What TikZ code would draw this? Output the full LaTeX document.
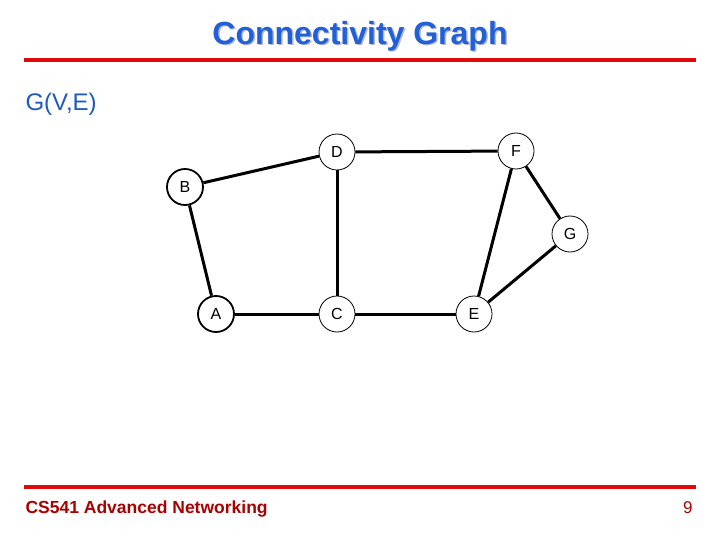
\documentclass[tikz,border=0pt]{standalone}
\usepackage{fontspec}
\setmainfont{Liberation Sans}
\definecolor{titleblue}{RGB}{32,96,216}
\definecolor{shadowgray}{RGB}{185,185,195}
\definecolor{rulered}{RGB}{225,10,10}
\definecolor{footred}{RGB}{170,0,0}
\definecolor{gvblue}{RGB}{30,90,190}
\begin{document}
\begin{tikzpicture}[x=1pt,y=-1pt,
  vtx/.style={circle,draw,line width=0.8pt,fill=white,minimum size=36pt,inner sep=0pt,font=\fontsize{16}{16}\selectfont},
  vtxb/.style={vtx,line width=1.8pt},
  edge/.style={line width=3pt},
  redrule/.style={draw=rulered,line width=4pt}]
\useasboundingbox (0,0) rectangle (720,540);
% title
\node[font=\fontsize{32}{32}\selectfont\bfseries,text=shadowgray] at (361.5,37.5) {Connectivity Graph};
\node[font=\fontsize{32}{32}\selectfont\bfseries,text=titleblue] (title) at (360,36) {Connectivity Graph};
\coordinate (r1a) at (24,60); \coordinate (r1b) at (696,60);
\draw[redrule] (r1a) -- (r1b);
\node[font=\fontsize{24}{24}\selectfont,text=gvblue,anchor=west] (gve) at (22,104) {G(V,E)};
% vertices
\node[vtx] (D) at (337,152) {D};
\node[vtx] (F) at (516,151) {F};
\node[vtxb] (B) at (185,187) {B};
\node[vtx] (G) at (570,234) {G};
\node[vtxb] (A) at (216,314) {A};
\node[vtx] (C) at (337,314) {C};
\node[vtx] (E) at (474,314) {E};
% edges
\draw[edge] (B) -- (D);
\draw[edge] (B) -- (A);
\draw[edge] (A) -- (C);
\draw[edge] (C) -- (D);
\draw[edge] (D) -- (F);
\draw[edge] (C) -- (E);
\draw[edge] (E) -- (F);
\draw[edge] (F) -- (G);
\draw[edge] (G) -- (E);
% footer
\coordinate (r2a) at (24,487); \coordinate (r2b) at (696,487);
\draw[redrule] (r2a) -- (r2b);
\node[font=\fontsize{17.5}{17.5}\selectfont\bfseries,text=footred,anchor=base west] (foot) at (22,513) {CS541 Advanced Networking};
\node[font=\fontsize{17}{17}\selectfont,text=footred,anchor=base east] (page) at (696,513) {9};
\end{tikzpicture}
\end{document}
